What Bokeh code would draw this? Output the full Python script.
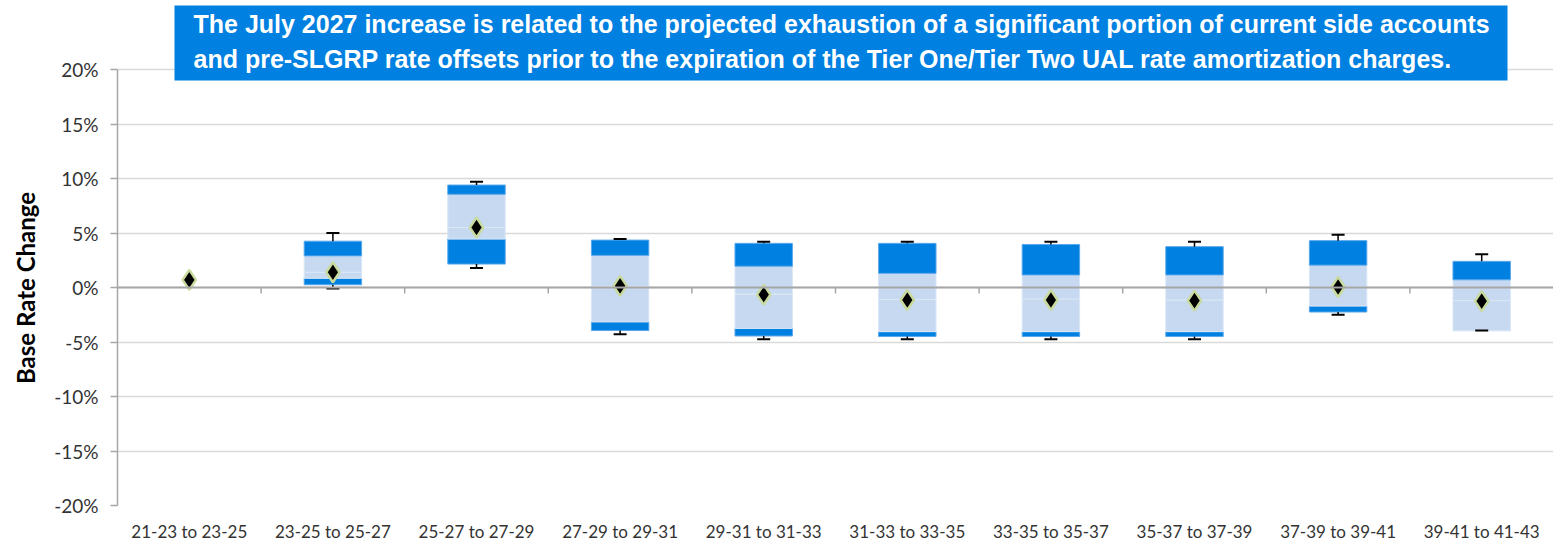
import numpy as np
from bokeh.plotting import figure
from bokeh.models import (ColumnDataSource, FixedTicker, PrintfTickFormatter, Span,
                          Whisker, TeeHead, Label, BoxAnnotation)
from bokeh.embed import file_html
from bokeh.resources import INLINE

categories = ["21-23 to 23-25", "23-25 to 25-27", "25-27 to 27-29", "27-29 to 29-31",
              "29-31 to 31-33", "31-33 to 33-35", "33-35 to 35-37", "35-37 to 37-39",
              "37-39 to 39-41", "39-41 to 41-43"]
whisker_hi = [0.7, 5.0, 9.7, 4.45, 4.2, 4.2, 4.2, 4.2, 4.85, 3.05]
box_hi     = [0.7, 4.25, 9.4, 4.35, 4.05, 4.05, 3.95, 3.75, 4.3, 2.4]
dark_hi_lo = [0.7, 2.9, 8.55, 2.95, 1.95, 1.3, 1.15, 1.15, 2.05, 0.7]
median     = [0.7, 1.4, 5.5, 0.1, -0.6, -1.1, -1.05, -1.15, 0.05, -1.2]
dark_lo_hi = [0.7, 0.85, 4.45, -3.15, -3.75, -4.05, -4.05, -4.05, -1.7, -3.95]
box_lo     = [0.7, 0.25, 2.15, -3.95, -4.45, -4.5, -4.5, -4.5, -2.25, -3.95]
whisker_lo = [0.7, -0.1, 1.8, -4.3, -4.75, -4.75, -4.75, -4.75, -2.5, -3.95]
mean       = [0.7, 1.4, 5.5, 0.15, -0.65, -1.15, -1.15, -1.2, 0.05, -1.25]
y_ticks = [-20, -15, -10, -5, 0, 5, 10, 15, 20]
y_title = "Base Rate Change"
note = ("The July 2027 increase is related to the projected exhaustion of a significant portion of current side accounts\n"
        "and pre-SLGRP rate offsets prior to the expiration of the Tier One/Tier Two UAL rate amortization charges.")

DARK = "#0080e0"
LIGHT = "#c6d9f0"
n = len(categories)
xc = np.arange(n) + 0.5

# layout constants (pixels)
FRAME_LEFT, FRAME_W = 117, 1436
TOP_PAD, PLOT_H = 69, 436
ymin, ymax = y_ticks[0], y_ticks[-1]
ppu = PLOT_H / (ymax - ymin)          # pixels per percent
ytop = ymax + TOP_PAD / ppu
xppu = FRAME_W / n

def px2x(px):
    return (px - FRAME_LEFT) / xppu

def py2y(py):
    return ytop - py / ppu

src_all = ColumnDataSource(dict(x=xc, mean=mean))
bi = [i for i in range(n) if box_hi[i] > box_lo[i]]
src = ColumnDataSource(dict(x=xc[bi], bhi=[box_hi[i] for i in bi], dhl=[dark_hi_lo[i] for i in bi],
                            med=[median[i] for i in bi], dlh=[dark_lo_hi[i] for i in bi],
                            blo=[box_lo[i] for i in bi]))

p = figure(frame_width=FRAME_W, frame_height=TOP_PAD + PLOT_H, x_range=(0, n), y_range=(ymin, ytop),
           output_backend="svg", toolbar_location=None,
           min_border_left=FRAME_LEFT, min_border_top=0, min_border_right=0, min_border_bottom=34)
p.outline_line_color = None
p.background_fill_color = "white"

# grid
p.xgrid.visible = False
p.yaxis.ticker = FixedTicker(ticks=y_ticks)
p.ygrid.grid_line_color = "#d9d9d9"
p.ygrid.grid_line_width = 1.5

# y axis
p.yaxis.bounds = (ymin, ymax)
p.yaxis.formatter = PrintfTickFormatter(format="%d%%")
p.yaxis.axis_line_color = "#a6a6a6"
p.yaxis.axis_line_width = 1.5
p.yaxis.major_tick_line_color = "#a6a6a6"
p.yaxis.major_tick_line_width = 1.5
p.yaxis.major_tick_out = 7
p.yaxis.major_tick_in = 0
p.yaxis.minor_tick_line_color = None
p.yaxis.major_label_text_font = "Lato"
p.yaxis.major_label_text_font_size = "19px"
p.yaxis.major_label_text_color = "#333333"
p.yaxis.major_label_standoff = 12
# trailing no-break spaces shift the rotated title down to centre it on the plotted span
p.yaxis.axis_label = y_title + "\u00a0" * 12
p.yaxis.axis_label_text_font = "Lato"
p.yaxis.axis_label_text_font_style = "bold"
p.yaxis.axis_label_text_font_size = "24px"
p.yaxis.axis_label_text_color = "#000000"
p.yaxis.axis_label_standoff = 11

# x axis (labels only)
p.xaxis.ticker = FixedTicker(ticks=list(xc))
p.xaxis.major_label_overrides = {float(x): c for x, c in zip(xc, categories)}
p.xaxis.axis_line_color = None
p.xaxis.major_tick_line_color = None
p.xaxis.minor_tick_line_color = None
p.xaxis.major_label_text_font = "Lato"
p.xaxis.major_label_text_font_size = "17px"
p.xaxis.major_label_text_color = "#333333"
p.xaxis.major_label_standoff = 9

# zero line + category boundary ticks
p.add_layout(Span(location=0, dimension="width", line_color="#a6a6a6", line_width=2))
bx = np.arange(1, n)
p.segment(x0=bx, x1=bx, y0=np.zeros(len(bx)), y1=np.full(len(bx), -6 / ppu),
          line_color="#a6a6a6", line_width=1.5)

# whiskers (only where they have length)
hi_mask = [i for i in range(n) if whisker_hi[i] > box_hi[i]]
lo_mask = [i for i in range(n) if whisker_lo[i] <= box_lo[i] and box_hi[i] > box_lo[i]]
wsrc_hi = ColumnDataSource(dict(x=xc[hi_mask], lo=[box_hi[i] for i in hi_mask],
                                hi=[whisker_hi[i] for i in hi_mask]))
wsrc_lo = ColumnDataSource(dict(x=xc[lo_mask], lo=[whisker_lo[i] for i in lo_mask],
                                hi=[box_lo[i] for i in lo_mask]))
w1 = Whisker(base="x", lower="lo", upper="hi", source=wsrc_hi, dimension="height",
             line_color="black", line_width=1.5,
             upper_head=TeeHead(size=13, line_color="black", line_width=2), lower_head=None,
             level="glyph")
w2 = Whisker(base="x", lower="lo", upper="hi", source=wsrc_lo, dimension="height",
             line_color="black", line_width=1.5,
             lower_head=TeeHead(size=13, line_color="black", line_width=2), upper_head=None,
             level="glyph")
p.add_layout(w1)
p.add_layout(w2)

# boxes
W = 0.4
p.vbar(x="x", width=W, bottom="blo", top="dlh", source=src, fill_color=DARK,
       line_color="#5aa8ec", line_width=1)
p.vbar(x="x", width=W, bottom="dlh", top="med", source=src, fill_color=LIGHT,
       line_color="#dbe7f6", line_width=1)
p.vbar(x="x", width=W, bottom="med", top="dhl", source=src, fill_color=LIGHT,
       line_color="#dbe7f6", line_width=1)
p.vbar(x="x", width=W, bottom="dhl", top="bhi", source=src, fill_color=DARK,
       line_color="#5aa8ec", line_width=1)

# mean diamonds
p.scatter(x="x", y="mean", source=src_all, marker="diamond", size=20,
          fill_color="black", line_color="#c8da9e", line_width=2.5)

# note box
p.add_layout(BoxAnnotation(left=px2x(174), right=px2x(1507), top=py2y(5), bottom=py2y(80),
                           fill_color=DARK, fill_alpha=1, line_color=None, level="overlay"))
lab = Label(x=px2x(193), y=py2y(9), text=note,
            text_font="Liberation Sans", text_font_style="bold", text_font_size="25px",
            text_color="white", text_line_height=1.28, anchor="top_left", level="overlay")
p.add_layout(lab)

open("out.html", "w").write(file_html(p, INLINE))
